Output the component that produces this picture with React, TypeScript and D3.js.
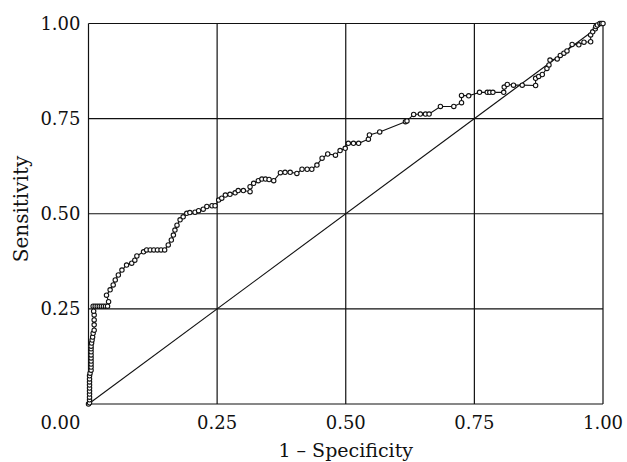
import * as d3 from 'd3'

// ROC curve points: [1 - specificity, sensitivity]
const rocPoints: [number, number][] = [
  [0, 0], [0.002, 0.003], [0.002, 0.011], [0.002, 0.018], [0.002, 0.026], [0.002, 0.034],
  [0.002, 0.042], [0.002, 0.05], [0.002, 0.058], [0.002, 0.066], [0.002, 0.074], [0.003, 0.081],
  [0.005, 0.089], [0.005, 0.097], [0.005, 0.105], [0.005, 0.113], [0.005, 0.121], [0.005, 0.129],
  [0.005, 0.137], [0.005, 0.145], [0.005, 0.152], [0.006, 0.16], [0.007, 0.168], [0.008, 0.176],
  [0.009, 0.186], [0.011, 0.194], [0.011, 0.208], [0.011, 0.221], [0.011, 0.234], [0.01, 0.244],
  [0.009, 0.257], [0.013, 0.257], [0.017, 0.257], [0.021, 0.257], [0.025, 0.257], [0.029, 0.257],
  [0.033, 0.257], [0.037, 0.257], [0.039, 0.269], [0.035, 0.286], [0.042, 0.3], [0.048, 0.313],
  [0.052, 0.326], [0.058, 0.339], [0.065, 0.352], [0.074, 0.365], [0.084, 0.37], [0.09, 0.378],
  [0.094, 0.389], [0.107, 0.4], [0.113, 0.405], [0.12, 0.405], [0.127, 0.405], [0.134, 0.405],
  [0.141, 0.405], [0.148, 0.405], [0.155, 0.418], [0.161, 0.431], [0.165, 0.444], [0.168, 0.457],
  [0.172, 0.47], [0.178, 0.484], [0.184, 0.492], [0.191, 0.501], [0.197, 0.503], [0.207, 0.504],
  [0.214, 0.508], [0.223, 0.512], [0.23, 0.519], [0.24, 0.521], [0.246, 0.521], [0.253, 0.536],
  [0.259, 0.541], [0.266, 0.549], [0.275, 0.551], [0.285, 0.555], [0.291, 0.561], [0.301, 0.561],
  [0.314, 0.558], [0.314, 0.571], [0.321, 0.58], [0.33, 0.587], [0.337, 0.591], [0.344, 0.591],
  [0.351, 0.59], [0.36, 0.587], [0.373, 0.608], [0.382, 0.609], [0.392, 0.609], [0.405, 0.606],
  [0.415, 0.617], [0.425, 0.617], [0.434, 0.617], [0.444, 0.628], [0.454, 0.646], [0.465, 0.657],
  [0.48, 0.654], [0.489, 0.666], [0.499, 0.672], [0.505, 0.685], [0.515, 0.685], [0.525, 0.685],
  [0.544, 0.696], [0.546, 0.707], [0.566, 0.715], [0.616, 0.742], [0.619, 0.744], [0.632, 0.761],
  [0.645, 0.762], [0.655, 0.762], [0.662, 0.762], [0.684, 0.782], [0.71, 0.782], [0.725, 0.792],
  [0.725, 0.811], [0.739, 0.81], [0.76, 0.819], [0.775, 0.819], [0.78, 0.819], [0.786, 0.819],
  [0.807, 0.819], [0.808, 0.833], [0.814, 0.84], [0.826, 0.838], [0.843, 0.838], [0.869, 0.837],
  [0.869, 0.856], [0.875, 0.861], [0.882, 0.866], [0.891, 0.882], [0.895, 0.891], [0.897, 0.904],
  [0.911, 0.907], [0.917, 0.916], [0.924, 0.922], [0.93, 0.928], [0.94, 0.945], [0.953, 0.944],
  [0.963, 0.951], [0.976, 0.952], [0.976, 0.97], [0.98, 0.978], [0.985, 0.986], [0.986, 0.992],
  [0.989, 0.996], [0.994, 1], [0.997, 1], [1, 1],
]

const ticks = [0, 0.25, 0.5, 0.75, 1]
const tickLabels = ['0.00', '0.25', '0.50', '0.75', '1.00']

const W = 627
const H = 462
const FONT = '"DejaVu Serif", "Liberation Serif", serif'

export default function App() {
  const x = d3.scaleLinear().domain([0, 1]).range([88.5, 603])
  const y = d3.scaleLinear().domain([0, 1]).range([404, 23.5])

  const line = d3.line<[number, number]>()
    .x(d => x(d[0]))
    .y(d => y(d[1]))

  const ink = '#111'

  return (
    <svg width={W} height={H} style={{ position: 'absolute', left: 0, top: 0, background: '#fff' }}>
      {/* grid */}
      {ticks.map(t => (
        <g key={'g' + t}>
          <line x1={x(t)} x2={x(t)} y1={y(0)} y2={y(1)} stroke={ink} strokeWidth={1.2} />
          <line x1={x(0)} x2={x(1)} y1={y(t)} y2={y(t)} stroke={ink} strokeWidth={1.2} />
        </g>
      ))}

      {/* reference diagonal */}
      <path d={line([[0, 0], [1, 1]]) ?? ''} fill="none" stroke={ink} strokeWidth={1.1} />

      {/* ROC curve */}
      <path d={line(rocPoints) ?? ''} fill="none" stroke={ink} strokeWidth={1.1} />
      {rocPoints.map((p, i) => (
        <circle key={i} cx={x(p[0])} cy={y(p[1])} r={2.2} fill="#fff" stroke={ink} strokeWidth={1.1} />
      ))}

      {/* y tick labels */}
      {ticks.map((t, i) => i === 0 ? null : (
        <text key={'y' + t} x={x(0) - 8} y={y(t)} dy="0.36em" textAnchor="end"
          fontFamily={FONT} fontSize={18} fill={ink}>{tickLabels[i]}</text>
      ))}

      {/* x tick labels */}
      {ticks.map((t, i) => (
        <text key={'x' + t} x={i === 0 ? x(0) - 8 : x(t)} y={429} textAnchor={i === 0 ? 'end' : 'middle'}
          fontFamily={FONT} fontSize={18} fill={ink}>{tickLabels[i]}</text>
      ))}

      {/* axis titles */}
      <text x={x(0.5)} y={457} textAnchor="middle" fontFamily={FONT} fontSize={19} fill={ink}>
        1 – Specificity
      </text>
      <text transform={`translate(28,209) rotate(-90)`} textAnchor="middle"
        fontFamily={FONT} fontSize={20} fill={ink}>Sensitivity</text>
    </svg>
  )
}
